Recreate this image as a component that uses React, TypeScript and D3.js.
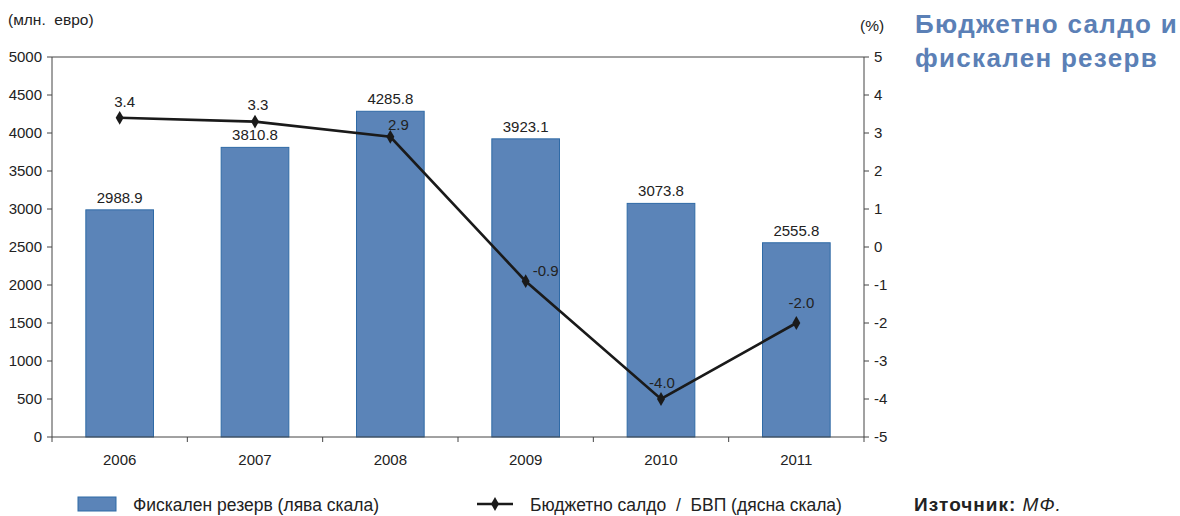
import { FC } from 'react';
import * as d3 from 'd3';

const years = ['2006', '2007', '2008', '2009', '2010', '2011'];
const reserve = [2988.9, 3810.8, 4285.8, 3923.1, 3073.8, 2555.8];
const balance = [3.4, 3.3, 2.9, -0.9, -4.0, -2.0];
const leftTicks = [0, 500, 1000, 1500, 2000, 2500, 3000, 3500, 4000, 4500, 5000];
const rightTicks = [-5, -4, -3, -2, -1, 0, 1, 2, 3, 4, 5];

const font = "'Liberation Sans Narrow', 'Liberation Sans', Arial, sans-serif";
const wideFont = "'Liberation Sans', Arial, sans-serif";
const barFill = '#5b84b8';
const barStroke = '#2f6aa6';
const titleColor = '#5b80b6';

// where each line label sits relative to its marker (dx, dy), like the original
const lineLabelShift: [number, number][] = [
  [5, -11],
  [3, -12],
  [8, -7],
  [20, -5],
  [1, -11],
  [5, -15],
];

const App: FC = () => {
  const width = 1180;
  const height = 516;
  const margin = { top: 57, right: 316, bottom: 79, left: 52 };
  const x0 = margin.left;
  const x1 = width - margin.right;
  const y0 = height - margin.bottom;
  const y1 = margin.top;

  const x = d3.scaleBand().domain(years).range([x0, x1]).paddingInner(0.5).paddingOuter(0.25);
  const yL = d3.scaleLinear().domain([0, 5000]).range([y0, y1]);
  const yR = d3.scaleLinear().domain([-5, 5]).range([y0, y1]);
  const step = (x1 - x0) / years.length;
  const cx = (d: string) => (x(d) ?? 0) + x.bandwidth() / 2;

  const line = d3
    .line<number>()
    .x((_, i) => cx(years[i]))
    .y((d) => yR(d));

  const diamond = d3.symbol().type(d3.symbolDiamond).size(55)();

  return (
    <svg width={width} height={height} style={{ position: 'absolute', left: 0, top: 0 }} fontFamily={font}>
      <rect width={width} height={height} fill="#fff" />

      {/* bars */}
      {years.map((yr, i) => (
        <rect
          key={yr}
          x={x(yr)}
          y={yL(reserve[i])}
          width={x.bandwidth()}
          height={y0 - yL(reserve[i])}
          fill={barFill}
          stroke={barStroke}
          strokeWidth={1}
        />
      ))}
      {years.map((yr, i) => (
        <text key={'bl' + yr} x={cx(yr)} y={yL(reserve[i]) - 7} textAnchor="middle" fontSize={15} fill="#222">
          {reserve[i].toFixed(1)}
        </text>
      ))}

      {/* frame */}
      <line x1={x0} x2={x1} y1={y1} y2={y1} stroke="#444" />
      <line x1={x0} x2={x0} y1={y1} y2={y0} stroke="#444" />
      <line x1={x1} x2={x1} y1={y1} y2={y0} stroke="#444" />
      <line x1={x0} x2={x1} y1={y0} y2={y0} stroke="#444" />

      {/* left axis */}
      {leftTicks.map((t) => (
        <g key={'l' + t}>
          <line x1={x0 - 5} x2={x0} y1={yL(t)} y2={yL(t)} stroke="#444" />
          <text x={x0 - 10} y={yL(t) + 5} textAnchor="end" fontSize={15} fill="#222">
            {t}
          </text>
        </g>
      ))}

      {/* right axis */}
      {rightTicks.map((t) => (
        <g key={'r' + t}>
          <line x1={x1} x2={x1 + 5} y1={yR(t)} y2={yR(t)} stroke="#444" />
          <text x={x1 + 10} y={yR(t) + 5} textAnchor="start" fontSize={15} fill="#222">
            {t}
          </text>
        </g>
      ))}

      {/* x axis */}
      {d3.range(years.length + 1).map((k) => (
        <line key={'xt' + k} x1={x0 + k * step} x2={x0 + k * step} y1={y0} y2={y0 + 5} stroke="#444" />
      ))}
      {years.map((yr) => (
        <text key={'xl' + yr} x={cx(yr)} y={y0 + 28} textAnchor="middle" fontSize={15} fill="#222">
          {yr}
        </text>
      ))}

      {/* line series */}
      <path d={line(balance) ?? ''} fill="none" stroke="#1a1a1a" strokeWidth={2.6} />
      {balance.map((v, i) => (
        <path key={'m' + i} d={diamond ?? ''} transform={`translate(${cx(years[i])},${yR(v)})`} fill="#1a1a1a" />
      ))}
      {balance.map((v, i) => (
        <text
          key={'ll' + i}
          x={cx(years[i]) + lineLabelShift[i][0]}
          y={yR(v) + lineLabelShift[i][1]}
          textAnchor="middle"
          fontSize={15}
          fill="#222"
        >
          {v.toFixed(1)}
        </text>
      ))}

      {/* axis titles */}
      <text x={8} y={25} fontSize={15.5} fill="#222">(млн.{'\u00a0\u00a0'}евро)</text>
      <text x={860} y={31} fontSize={15.5} fill="#222">(%)</text>

      {/* chart title */}
      <text x={915} y={33} fontSize={26} fontWeight="bold" letterSpacing={1.3} fill={titleColor} fontFamily={wideFont}>
        Бюджетно салдо и
      </text>
      <text x={915} y={67} fontSize={26} fontWeight="bold" letterSpacing={1.3} fill={titleColor} fontFamily={wideFont}>
        фискален резерв
      </text>

      {/* legend */}
      <rect x={78} y={497} width={38} height={14} fill={barFill} stroke={barStroke} />
      <text x={133} y={511} fontSize={17.5} fill="#222">Фискален резерв (лява скала)</text>
      <line x1={477} x2={513} y1={504} y2={504} stroke="#1a1a1a" strokeWidth={2.6} />
      <path d={diamond ?? ''} transform="translate(495,504)" fill="#1a1a1a" />
      <text x={530} y={511} fontSize={17.5} fill="#222">
        {'Бюджетно салдо\u00a0\u00a0/\u00a0\u00a0БВП (дясна скала)'}
      </text>
      <text x={914} y={511} fontSize={19} letterSpacing={1} fill="#222" fontFamily={wideFont}>
        <tspan fontWeight="bold">Източник: </tspan>
        <tspan fontStyle="italic">МФ.</tspan>
      </text>
    </svg>
  );
};

export default App;
